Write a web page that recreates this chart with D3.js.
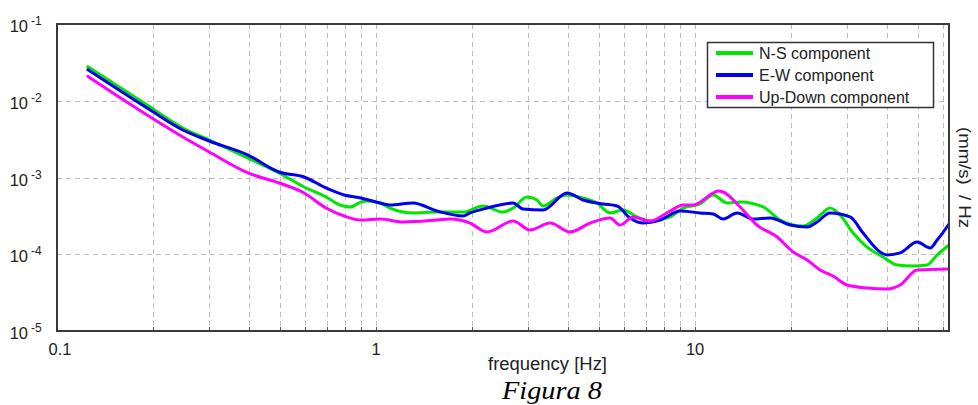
<!DOCTYPE html>
<html>
<head>
<meta charset="utf-8">
<script src="https://cdn.jsdelivr.net/npm/d3@7"></script>
<style>
  html, body { margin: 0; padding: 0; background: #fff; }
  svg { display: block; }
</style>
</head>
<body>
<svg id="chart" width="978" height="405"></svg>
<script>
// ---- data ----
const seriesNames = ["N-S component", "E-W component", "Up-Down component"];
const seriesColors = ["#00e600", "#0000f0", "#ff00ff"];

const nsFreq = [0.124, 0.196, 0.248, 0.300, 0.397, 0.497, 0.595, 0.697, 0.771, 0.829, 0.897, 0.937, 1.029,
  1.106, 1.306, 1.553, 1.874, 2.165, 2.500, 2.688, 2.974, 3.196, 3.337, 3.693, 3.970, 4.456, 4.929,
  5.414, 5.947, 6.579, 7.228, 8.349, 9.172, 10.37, 11.39, 12.60, 13.84, 16.34, 18.47, 21.81, 24.12,
  26.49, 28.47, 31.28, 34.61, 38.85, 42.97, 48.25, 53.38, 57.37, 62.5];
const nsVal = [0.0284, 0.00829, 0.00442, 0.00308, 0.00179, 0.001145, 0.000752, 0.000557, 0.000438, 0.000413, 0.000480, 0.000494, 0.000465,
  0.000400, 0.000345, 0.000355, 0.000355, 0.000425, 0.000355, 0.000400, 0.000557, 0.000509, 0.000425, 0.000541, 0.000592, 0.000541, 0.000465,
  0.000345, 0.000377, 0.000306, 0.000271, 0.000306, 0.000400, 0.000452, 0.000592, 0.000465, 0.000480, 0.000413, 0.000279, 0.000233, 0.000297,
  0.000400, 0.000325, 0.000189, 0.000124, 0.0000921, 0.0000724, 0.0000703, 0.0000724, 0.0000978, 0.000132];

const ewFreq = [0.124, 0.196, 0.248, 0.300, 0.397, 0.497, 0.595, 0.697, 0.794, 0.897, 1.029,
  1.106, 1.306, 1.553, 1.874, 1.971, 2.228, 2.688, 2.889, 3.337, 3.970, 4.456, 5.147, 5.694, 6.255, 6.871,
  7.769, 8.974, 10.37, 11.39, 12.24, 13.54, 15.20, 17.19, 19.86, 22.45, 24.12, 26.49, 30.61, 33.62, 38.02,
  39.99, 43.91, 49.66, 54.55, 57.37, 62.5];
const ewVal = [0.02593, 0.00758, 0.00416, 0.00299, 0.00196, 0.00118, 0.001015, 0.000730, 0.000592, 0.000541, 0.000465,
  0.000438, 0.000465, 0.000366, 0.000315, 0.000345, 0.000400, 0.000465, 0.000389, 0.000377, 0.000628, 0.000509, 0.000452, 0.000425, 0.000297, 0.000255,
  0.000279, 0.000366, 0.000345, 0.000334, 0.000288, 0.000345, 0.000288, 0.000297, 0.000240, 0.000226, 0.000263, 0.000345, 0.000306, 0.000189, 0.000107,
  0.0000978, 0.000104, 0.000144, 0.000121, 0.000153, 0.000248];

const udFreq = [0.124, 0.196, 0.248, 0.300, 0.397, 0.497, 0.595, 0.697, 0.794, 0.897, 1.029,
  1.215, 1.553, 1.706, 1.971, 2.228, 2.688, 3.039, 3.511, 4.057, 4.686, 5.414, 5.819, 6.392, 7.228, 8.349,
  9.172, 9.856, 11.39, 11.81, 12.24, 13.84, 15.64, 18.08, 20.29, 22.45, 24.65, 27.07, 29.95, 34.61, 39.99,
  43.91, 49.66, 62.5];
const udVal = [0.0212, 0.00614, 0.00337, 0.00215, 0.001145, 0.000848, 0.000628, 0.000400, 0.000315, 0.000279, 0.000288,
  0.000263, 0.000279, 0.000288, 0.000255, 0.000195, 0.000271, 0.000207, 0.000255, 0.000195, 0.000255, 0.000297, 0.000240, 0.000306, 0.000271, 0.000366,
  0.000438, 0.000438, 0.000628, 0.000667, 0.000647, 0.000413, 0.000240, 0.000168, 0.000107, 0.0000841, 0.0000623, 0.0000521, 0.0000397, 0.0000363, 0.0000352,
  0.0000397, 0.0000623, 0.0000642];

const xDomain = [0.1, 62.5];
const yDomain = [1e-5, 1e-1];
const xTickLabels = ["0.1", "1", "10"];
const xTickValues = [0.1, 1, 10];
const yTickValues = [1e-1, 1e-2, 1e-3, 1e-4, 1e-5];
const yTickExps = ["-1", "-2", "-3", "-4", "-5"];
const xLabel = "frequency [Hz]";
const yLabel = "(mm/s)  / Hz";
const caption = "Figura 8";

// ---- drawing ----
const svg = d3.select("#chart");
const L = 57, R = 949, T = 24, B = 331;
const x = d3.scaleLog().domain(xDomain).range([L, R]);
const y = d3.scaleLog().domain(yDomain).range([B, T]);

// minor/major frequency positions
const xGrid = [];
[0.1, 1, 10].forEach(d => { for (let k = 1; k <= 9; k++) { const v = d * k; if (v <= xDomain[1]) xGrid.push(v); } });

const grid = svg.append("g").attr("stroke", "#bdbdbd").attr("stroke-width", 1).attr("stroke-dasharray", "5,4").attr("fill", "none");
grid.selectAll("line.v").data(xGrid.filter(v => v > xDomain[0])).join("line")
  .attr("x1", d => Math.round(x(d)) + 0.5).attr("x2", d => Math.round(x(d)) + 0.5)
  .attr("y1", T).attr("y2", B);
grid.selectAll("line.h").data(yTickValues.filter(v => v > yDomain[0] && v < yDomain[1])).join("line")
  .attr("x1", L).attr("x2", R)
  .attr("y1", d => Math.round(y(d)) + 0.5).attr("y2", d => Math.round(y(d)) + 0.5);

// bottom minor ticks (inward)
svg.append("g").attr("stroke", "#555").attr("stroke-width", 1)
  .selectAll("line").data(xGrid.filter(v => v > xDomain[0])).join("line")
  .attr("x1", d => Math.round(x(d)) + 0.5).attr("x2", d => Math.round(x(d)) + 0.5)
  .attr("y1", B).attr("y2", B - 4);

// series
const line = d3.line().x(d => x(d[0])).y(d => y(d[1])).curve(d3.curveMonotoneX);
const series = [
  d3.zip(nsFreq, nsVal),
  d3.zip(ewFreq, ewVal),
  d3.zip(udFreq, udVal)
];
const plot = svg.append("g");
series.forEach((s, i) => {
  plot.append("path").datum(s)
    .attr("fill", "none")
    .attr("stroke", seriesColors[i])
    .attr("stroke-width", 3)
    .attr("stroke-linejoin", "round")
    .attr("d", line);
});

// frame
svg.append("rect").attr("x", L).attr("y", T).attr("width", R - L).attr("height", B - T)
  .attr("fill", "none").attr("stroke", "#3a3a3a").attr("stroke-width", 2);

// y tick labels
const yl = svg.append("g").attr("font-family", "'Liberation Sans', Arial, sans-serif").attr("fill", "#222");
yTickValues.forEach((v, i) => {
  const yy = y(v);
  yl.append("text").attr("x", 28).attr("y", yy + 8).attr("text-anchor", "end").attr("font-size", 16.5).text("10");
  yl.append("text").attr("x", 31).attr("y", yy + 1).attr("text-anchor", "start").attr("font-size", 12).text(yTickExps[i]);
});

// x tick labels
const xl = svg.append("g").attr("font-family", "'Liberation Sans', Arial, sans-serif").attr("fill", "#222").attr("font-size", 16.5);
xTickValues.forEach((v, i) => {
  xl.append("text").attr("x", x(v) + (i === 0 ? 3 : 0)).attr("y", 355).attr("text-anchor", "middle").text(xTickLabels[i]);
});

// axis label
svg.append("text").attr("x", 488).attr("y", 370)
  .attr("font-family", "'Liberation Sans', Arial, sans-serif").attr("font-size", 17.5).attr("fill", "#222")
  .attr("textLength", 119).attr("lengthAdjust", "spacingAndGlyphs").text(xLabel);

// right y label (rotated)
svg.append("text").attr("transform", "translate(959,127) rotate(90)")
  .attr("font-family", "'Liberation Sans', Arial, sans-serif").attr("font-size", 16).attr("fill", "#222")
  .attr("textLength", 101).attr("lengthAdjust", "spacingAndGlyphs")
  .attr("xml:space", "preserve").style("white-space", "pre").text(yLabel);

// caption
svg.append("text").attr("x", 502).attr("y", 399)
  .attr("font-family", "'Liberation Serif', 'Times New Roman', serif").attr("font-style", "italic")
  .attr("font-size", 25).attr("fill", "#000")
  .attr("textLength", 100).attr("lengthAdjust", "spacingAndGlyphs").text(caption);

// legend
const lg = svg.append("g");
lg.append("rect").attr("x", 707.5).attr("y", 42.5).attr("width", 226).attr("height", 65)
  .attr("fill", "#fff").attr("stroke", "#333").attr("stroke-width", 1.5);
seriesNames.forEach((n, i) => {
  const yy = 53 + i * 22;
  lg.append("line").attr("x1", 716).attr("x2", 753).attr("y1", yy).attr("y2", yy)
    .attr("stroke", seriesColors[i]).attr("stroke-width", 4);
  lg.append("text").attr("x", 759).attr("y", yy + 5.5)
    .attr("font-family", "'Liberation Sans', Arial, sans-serif").attr("font-size", 16).attr("fill", "#222").text(n);
});
</script>
</body>
</html>
